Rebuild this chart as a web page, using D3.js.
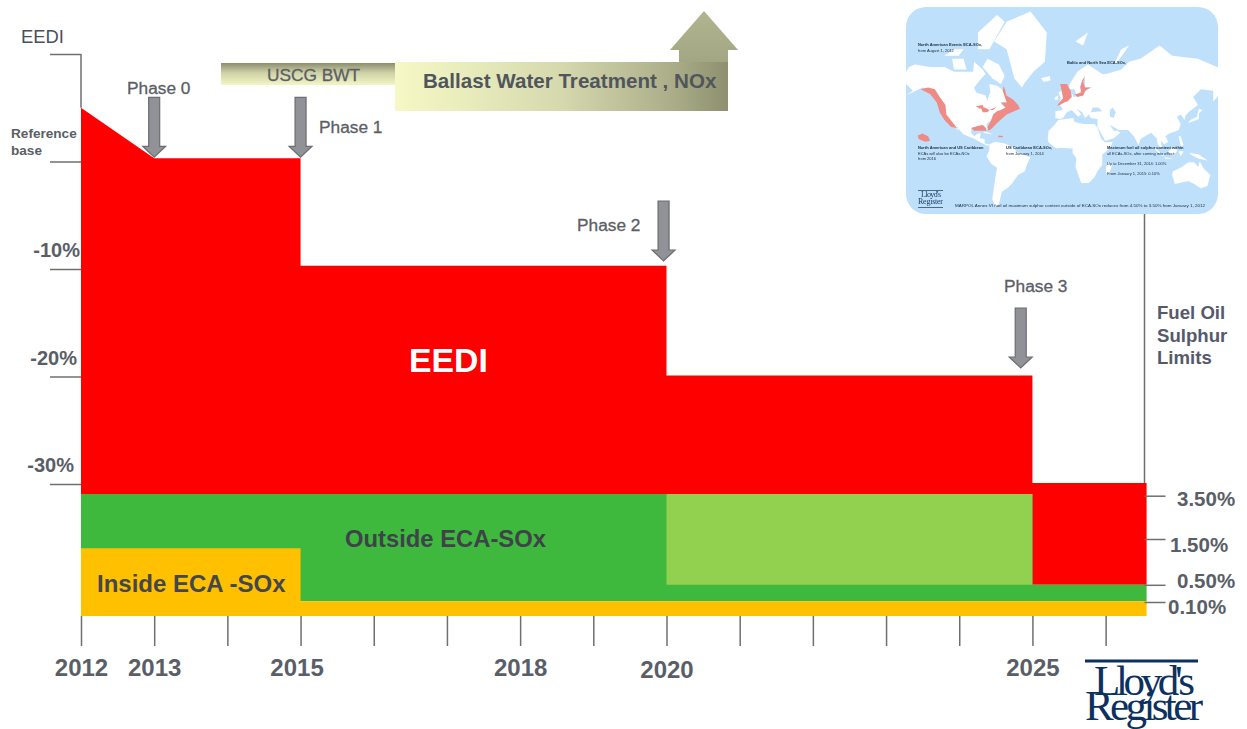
<!DOCTYPE html>
<html><head><meta charset="utf-8">
<script src="https://cdn.jsdelivr.net/npm/d3@7"></script>
<style>
html,body{margin:0;padding:0;background:#fff;overflow:hidden}
svg{display:block}
text{font-family:"Liberation Sans",Arial,sans-serif}
</style></head><body><svg id="c" width="1247" height="729"></svg>
<script>
// ---------- data ----------
const tickYears = d3.range(2012, 2027);
const labelledYears = [2012, 2013, 2015, 2018, 2020, 2025];
const eediTicks = [10, 0, -10, -20, -30];
const eediTickLabels = ["-10%", "-20%", "-30%"];
const eediYears = [2012, 2013, 2015, 2015, 2020, 2020, 2025, 2025, 2026.56];
const eediValues = [5, 0.3, 0.3, -9.7, -9.7, -19.9, -19.9, -29.9, -29.9];
const sulphurTicks = [3.5, 1.5, 0.5, 0.1];
const outsideYears = [2012, 2025, 2025, 2026.56];
const outsideTop = [3.58, 3.58, 0.5, 0.5];
const outsideBottom = 0.12;
const lightYears = [2020, 2025];
const lightTop = [3.58, 3.58];
const lightBottom = 0.5;
const insideYears = [2012, 2015, 2015, 2026.56];
const insideTop = [1.3, 1.3, 0.12, 0.12];
const phaseNames = ["Phase 0", "Phase 1", "Phase 2", "Phase 3"];
const phaseYears = [2013, 2015, 2019.96, 2024.84];
const phaseValues = [0.3, 0.3, -9.35, -19.3];

// map (lon/lat outlines)
const land = [
 [[-168,66],[-162,70],[-156,71],[-140,70],[-125,70],[-115,68],[-95,68],[-94,72],[-85,69],[-82,67],[-88,64],[-94,60],[-92,57],[-82,55],[-80,51],[-79,54],[-77,57],[-78,62],[-70,61],[-65,59],[-60,55],[-56,52],[-60,50],[-66,50],[-65,48],[-61,46],[-66,44],[-70,43],[-74,40],[-76,35],[-81,31],[-80,25],[-82,28],[-85,30],[-90,29],[-97,27],[-97,22],[-94,18],[-90,21],[-87,21],[-88,16],[-83,15],[-83,10],[-78,9],[-80,7],[-85,10],[-95,16],[-105,20],[-110,26],[-113,31],[-110,23],[-115,30],[-120,34],[-124,40],[-124,48],[-130,54],[-138,59],[-148,60],[-155,58],[-165,55],[-158,58],[-165,62]],
 [[-78,9],[-72,12],[-62,10],[-52,5],[-50,0],[-35,-6],[-39,-15],[-41,-22],[-48,-26],[-54,-34],[-58,-38],[-65,-42],[-68,-52],[-72,-54],[-75,-48],[-72,-30],[-70,-18],[-76,-14],[-81,-5],[-78,2]],
 [[-6,35],[10,37],[11,33],[20,31],[32,31],[35,27],[39,15],[43,11],[51,12],[48,4],[40,-3],[40,-15],[35,-22],[32,-28],[26,-34],[18,-34],[12,-17],[13,-8],[9,-1],[9,4],[-4,5],[-8,4],[-16,11],[-17,15],[-16,24],[-10,30]],
 [[-9,37],[-9,43],[-1,44],[-4,48],[4,52],[8,54],[8,57],[10,54],[20,55],[24,59],[30,60],[22,60],[22,65],[17,61],[18,58],[13,55],[11,59],[5,59],[6,62],[14,68],[25,71],[40,67],[44,67],[60,69],[68,72],[80,73],[100,77],[113,74],[140,73],[160,70],[180,69],[180,65],[178,62],[163,60],[162,55],[156,51],[156,58],[143,59],[135,54],[140,48],[130,42],[127,39],[126,35],[122,40],[118,38],[122,31],[120,25],[110,21],[106,18],[109,12],[105,9],[101,13],[103,2],[98,9],[97,16],[91,22],[80,15],[78,8],[73,18],[67,25],[57,25],[52,28],[48,30],[52,24],[56,24],[59,22],[52,16],[43,13],[39,21],[35,28],[35,36],[28,37],[26,40],[22,37],[19,42],[13,45],[18,40],[15,38],[8,44],[3,42],[-1,37],[-5,36]],
 [[114,-22],[122,-18],[130,-12],[136,-12],[140,-17],[142,-11],[146,-19],[153,-26],[150,-37],[143,-39],[136,-35],[130,-32],[116,-35],[113,-26]],
 [[-73,78],[-60,82],[-35,83.5],[-18,80],[-20,72],[-32,68],[-42,62],[-44,60],[-52,65],[-55,70],[-60,76]],
 [[-80,73],[-68,71],[-62,66],[-66,62],[-75,65],[-85,70]],
 [[-117,73],[-105,73],[-102,69],[-115,69]],
 [[-90,80],[-70,83],[-62,82],[-78,76],[-90,76]],
 [[-125,74],[-115,76],[-105,76],[-110,74]],
 [[-5,50],[1,51],[0,54],[-3,58],[-6,57],[-3,53]],
 [[-10,52],[-6,52],[-6,55],[-9,54]],
 [[-24,65],[-15,66],[-14,64],[-21,63]],
 [[44,-16],[49,-12],[50,-16],[47,-25],[44,-24]],
 [[130,32],[136,34],[141,36],[141,41],[145,44],[141,45],[139,38],[132,35]],
 [[95,5],[105,-5],[102,-4],[96,2]],
 [[109,1],[117,7],[118,1],[115,-4],[110,-2]],
 [[131,-1],[141,-3],[150,-10],[141,-8],[134,-4]],
 [[120,18],[122,18],[125,8],[122,7]],
 [[167,-46],[172,-41],[175,-37],[178,-38],[174,-42],[170,-46]],
 [[-85,22],[-75,20],[-78,22],[-82,23]],
 [[12,78],[25,80],[20,77]],
 [[105,-6],[115,-8],[106,-8]],
 [[52,71],[60,76],[68,77],[56,72]],
 [[120,1],[125,1],[122,-5]]
];
const seas = [
 [[28,42],[40,43],[36,46],[30,46]],
 [[48,38],[52,37],[54,42],[51,46],[48,44]]
];
const eca = [
 [[-142,60],[-135,59],[-130,54],[-124,48],[-123,40],[-116,32],[-112,27],[-118,28],[-125,35],[-130,42],[-133,50],[-140,56],[-150,59]],
 [[-63,61],[-60,55],[-53,52],[-48,48],[-46,45],[-60,40],[-70,32],[-76,26],[-79,24],[-80,28],[-76,35],[-74,40],[-70,43],[-66,44],[-61,46],[-66,50],[-60,50],[-64,58]],
 [[-97,27],[-90,29],[-85,30],[-82,27],[-81,24],[-86,24],[-94,24]],
 [[-153,19],[-148,21],[-142,18],[-140,13],[-145,12],[-152,15]],
 [[-69,17],[-64,17],[-64,18.5],[-68,19]],
 [[-4,62],[3,62],[7,58],[8,54],[4,51],[0,50],[-7,47],[-5,50],[-1,53],[-2,57]],
 [[11,56],[14,54],[20,55],[22,58],[28,60],[22,60],[20,63],[22,66],[19,64],[17,60],[18,57],[13,56]],
 [[-92,47],[-85,48],[-84,46],[-88,45]],
 [[-87,46],[-85,42],[-80,42],[-78,44],[-83,46]],
 [[-78,44],[-72,46],[-68,48],[-70,47],[-74,44]]
];

// ---------- scales ----------
const svg = d3.select("#c");
const x = d3.scaleLinear().domain([2012, 2026.56]).range([81, 1146.6]);
const yEedi = d3.scaleLinear().domain([10, -30]).range([54, 484]);
const ySul = d3.scaleLinear().domain([3.5, 1.5, 0.5, 0.1, 0]).range([495.7, 539, 584.8, 602, 616]);

const ink = "#5a5e66", axisInk = "#6f6f6f";

// ---------- defs ----------
const defs = svg.append("defs");
const grad = (id, attrs, stops) => {
  const g = defs.append("linearGradient").attr("id", id).attr("gradientUnits", "userSpaceOnUse");
  Object.entries(attrs).forEach(([k, v]) => g.attr(k, v));
  stops.forEach(([o, c]) => g.append("stop").attr("offset", o).attr("stop-color", c));
};
grad("gUscg", {x1: 0, y1: 63, x2: 0, y2: 85}, [[0, "#8b8e6e"], [.45, "#cfd2a6"], [1, "#f2f5c4"]]);
grad("gBody", {x1: 395, y1: 0, x2: 728, y2: 0}, [[0, "#f6f9c5"], [.5, "#d6d9ae"], [.85, "#a8ab86"], [1, "#8d8f6e"]]);
grad("gHead", {x1: 0, y1: 11, x2: 0, y2: 62}, [[0, "#b1b58f"], [1, "#a3a682"]]);
defs.append("filter").attr("id", "soft").append("feGaussianBlur").attr("stdDeviation", .45);
defs.append("filter").attr("id", "soft2").append("feGaussianBlur").attr("stdDeviation", .25);
defs.append("clipPath").attr("id", "mapClip").append("rect")
  .attr("x", 906).attr("y", 7).attr("width", 312).attr("height", 207).attr("rx", 20);

// ---------- fills ----------
const zip = (a, b) => a.map((v, i) => [v, b[i]]);
svg.append("path").attr("fill", "#ff0000")
  .attr("d", d3.area().x(d => x(d[0])).y1(d => yEedi(d[1])).y0(ySul(lightBottom))(zip(eediYears, eediValues)));
svg.append("path").attr("fill", "#3eb93e")
  .attr("d", d3.area().x(d => x(d[0])).y1(d => ySul(d[1])).y0(ySul(outsideBottom))(zip(outsideYears, outsideTop)));
svg.append("path").attr("fill", "#92d050")
  .attr("d", d3.area().x(d => x(d[0])).y1(d => ySul(d[1])).y0(ySul(lightBottom))(zip(lightYears, lightTop)));
svg.append("path").attr("fill", "#ffc000")
  .attr("d", d3.area().x(d => x(d[0])).y1(d => ySul(d[1])).y0(ySul(0))(zip(insideYears, insideTop)));

// ---------- axes ----------
const xAxis = svg.append("g").attr("transform", `translate(0,${ySul(0)})`)
  .call(d3.axisBottom(x).tickValues(tickYears).tickSize(30)
    .tickFormat(d => labelledYears.includes(d) ? d : ""));
xAxis.select(".domain").remove();
xAxis.selectAll("line").attr("stroke", axisInk).attr("stroke-width", 1.5);
xAxis.selectAll("text")
  .attr("y", 60).attr("dy", 0).attr("dx", d => d === 2015 ? -4 : 0)
  .attr("transform", d => d === 2020 ? "translate(0,2)" : null)
  .attr("fill", ink).style("font", "bold 24px 'Liberation Sans'");

const yAxis = svg.append("g").attr("transform", `translate(${x(2012)},0)`)
  .call(d3.axisLeft(yEedi).tickValues(eediTicks).tickSize(31).tickFormat(""));
yAxis.select(".domain").remove();
yAxis.selectAll("line").attr("stroke", axisInk).attr("stroke-width", 1.5);
svg.append("line").attr("x1", x(2012)).attr("x2", x(2012))
  .attr("y1", yEedi(10)).attr("y2", yEedi(5)).attr("stroke", axisInk).attr("stroke-width", 1.5);

eediTickLabels.forEach((t, i) => {
  svg.append("text").text(t).attr("text-anchor", "end")
    .attr("x", 80 - 3 * i).attr("y", yEedi(-10 * (i + 1)) - 12)
    .attr("fill", ink).style("font", "bold 20px 'Liberation Sans'");
});

// right axis
const rAxis = svg.append("g").attr("transform", `translate(1144.5,0)`)
  .call(d3.axisRight(ySul).tickValues(sulphurTicks).tickSize(21).tickFormat(""));
rAxis.select(".domain").remove();
rAxis.selectAll("line").attr("stroke", axisInk).attr("stroke-width", 1.5);
svg.append("line").attr("x1", 1144.5).attr("x2", 1144.5).attr("y1", 213).attr("y2", yEedi(-29.9))
  .attr("stroke", axisInk).attr("stroke-width", 1.5);
const sulX = [1177, 1170, 1177, 1168], sulDy = [10, 13, 3, 12];
sulphurTicks.forEach((v, i) => {
  svg.append("text").text(v.toFixed(2) + "%").attr("x", sulX[i]).attr("y", ySul(v) + sulDy[i])
    .attr("fill", ink).style("font", "bold 20.5px 'Liberation Sans'");
});

// ---------- phase arrows ----------
phaseYears.forEach((yr, i) => {
  const c = x(yr), tip = yEedi(phaseValues[i]) - 1;
  const top = tip - 60, neck = tip - 11;
  svg.append("path")
    .attr("d", d3.line()([[c-5.5,top],[c+5.5,top],[c+5.5,neck],[c+11.5,neck],[c,tip],[c-11.5,neck],[c-5.5,neck]]) + "Z")
    .attr("fill", "#909298").attr("stroke", "#6b6d70").attr("stroke-width", 1.2);
});
const phasePos = [[127, 94], [319, 133], [577, 231], [1004, 292]];
phaseNames.forEach((t, i) => {
  svg.append("text").text(t).attr("x", phasePos[i][0]).attr("y", phasePos[i][1])
    .attr("fill", ink).attr("stroke", ink).attr("stroke-width", .3)
    .style("font", "17.3px 'Liberation Sans'");
});

// ---------- regulation banner ----------
svg.append("rect").attr("x", 221).attr("y", 63).attr("width", 174).attr("height", 22).attr("fill", "url(#gUscg)");
svg.append("path").attr("fill", "url(#gBody)")
  .attr("d", "M395,62H728V111H395Z");
svg.append("path").attr("fill", "url(#gHead)")
  .attr("d", "M679,62V50H670L704,11L738,50H728V62Z");
svg.append("text").text("USCG BWT").attr("x", 267).attr("y", 81)
  .attr("fill", ink).attr("stroke", ink).attr("stroke-width", .3).style("font", "17.3px 'Liberation Sans'");
svg.append("text").text("Ballast Water Treatment , NOx").attr("x", 423).attr("y", 88)
  .attr("fill", "#51555d").style("font", "bold 20.6px 'Liberation Sans'");

// ---------- labels ----------
const label = (t, px, py, font, fill) => svg.append("text").text(t).attr("x", px).attr("y", py).attr("fill", fill || ink).style("font", font + " 'Liberation Sans'");
label("EEDI", 21, 43, "18.4px", "#4a4f58");
label("Reference", 11, 138, "bold 13.6px");
label("base", 11, 155, "bold 13.6px");
label("EEDI", 409, 372, "bold 33.8px", "#ffffff");
label("Outside ECA-SOx", 345, 547, "bold 23.8px", "#40424a");
label("Inside ECA -SOx", 97, 592, "bold 24px", "#44464c");
label("Fuel Oil", 1157, 319, "bold 18.6px", "#55596a");
label("Sulphur", 1157, 342, "bold 18.6px", "#55596a");
label("Limits", 1157, 364, "bold 18.6px", "#55596a");

// ---------- inset map ----------
const raw = (l, p) => [l, Math.log(Math.tan(Math.PI / 4 + p / 2)) * 49 / 54.8];
const proj = d3.geoProjection(raw).scale(54.8).translate([1064, 152]);
const poly = d3.line().curve(d3.curveLinearClosed);
const map = svg.append("g").attr("clip-path", "url(#mapClip)");
map.append("rect").attr("x", 906).attr("y", 7).attr("width", 312).attr("height", 207).attr("fill", "#bfe0fb");
const shapes = map.append("g").attr("filter", "url(#soft)");
land.forEach(p => shapes.append("path").attr("d", poly(p.map(q => proj(q)))).attr("fill", "#fff"));
seas.forEach(p => shapes.append("path").attr("d", poly(p.map(q => proj(q)))).attr("fill", "#bfe0fb"));
eca.forEach(p => shapes.append("path").attr("d", poly(p.map(q => proj(q)))).attr("fill", "#f08a84"));
const mini = map.append("g").attr("filter", "url(#soft2)");
const mapNotes = [
 ["North American Events ECA-SOx,", 918, 46, "bold"],
 ["from August 1, 2012", 918, 52, "normal"],
 ["Baltic and North Sea ECA-SOx,", 1067, 64, "bold"],
 ["North American and US Caribbean", 918, 149, "bold"],
 ["ECAs will also be ECAs-NOx", 918, 155, "normal"],
 ["from 2016", 918, 160, "normal"],
 ["US Caribbean ECA-SOx,", 1006, 149, "bold"],
 ["from January 1, 2014", 1006, 155, "normal"],
 ["Maximum fuel oil sulphur content within", 1107, 149, "bold"],
 ["all ECAs-SOx, after coming into effect:", 1107, 155, "normal"],
 ["Up to December 31, 2014: 1.00%", 1107, 165, "normal"],
 ["From January 1, 2015: 0.10%", 1107, 175, "normal"]
];
mapNotes.forEach(([t, px, py, w]) => mini.append("text").text(t).attr("x", px).attr("y", py)
  .attr("fill", "#1a2a3a").style("font", `${w} 4px 'Liberation Sans'`));
mini.append("text").text("MARPOL Annex VI fuel oil maximum sulphur content outside of ECA-SOx reduces from 4.50% to 3.50% from January 1, 2012")
  .attr("x", 955).attr("y", 207).attr("fill", "#1a2a3a")
  .attr("textLength", 250).attr("lengthAdjust", "spacingAndGlyphs")
  .style("font", "4px 'Liberation Sans'");
mini.append("rect").attr("x", 918).attr("y", 190).attr("width", 25).attr("height", .7).attr("fill", "#16385f");
mini.append("rect").attr("x", 918).attr("y", 207).attr("width", 25).attr("height", .7).attr("fill", "#16385f");
mini.append("text").text("Lloyd's").attr("x", 921).attr("y", 197).attr("fill", "#16385f")
  .style("font", "8px 'Liberation Serif'").attr("textLength", 20);
mini.append("text").text("Register").attr("x", 918).attr("y", 204).attr("fill", "#16385f")
  .style("font", "8px 'Liberation Serif'").attr("textLength", 25);

// ---------- logo ----------
svg.append("rect").attr("x", 1085).attr("y", 659.5).attr("width", 113).attr("height", 3).attr("fill", "#0b3160");
svg.append("text").text("Lloyd's").attr("x", 1094).attr("y", 695).attr("fill", "#0b3160")
  .attr("textLength", 101).attr("lengthAdjust", "spacing").style("font", "43px 'Liberation Serif'");
svg.append("text").text("Register").attr("x", 1085).attr("y", 720).attr("fill", "#0b3160")
  .attr("textLength", 118).attr("lengthAdjust", "spacing").style("font", "43px 'Liberation Serif'");
</script></body></html>
